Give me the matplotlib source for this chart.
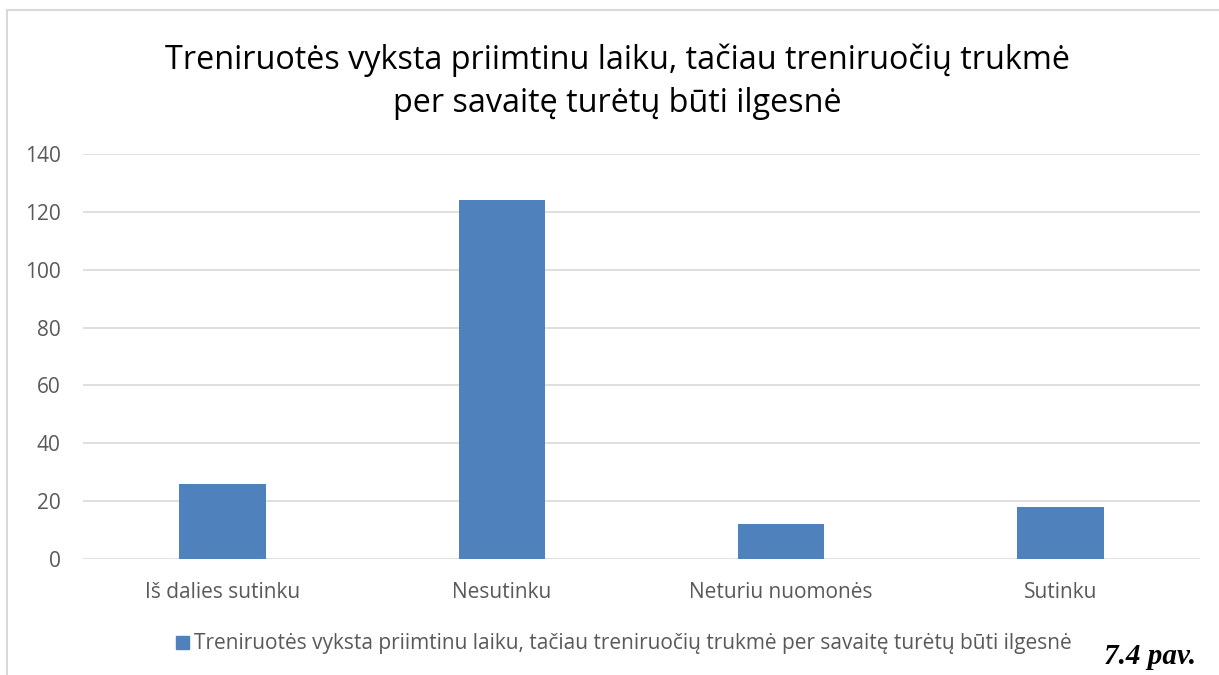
import matplotlib.pyplot as plt
from matplotlib.lines import Line2D
from matplotlib.patches import Patch

categories = ["Iš dalies sutinku", "Nesutinku", "Neturiu nuomonės", "Sutinku"]
values = [26, 124, 12, 18]
yticks = [0, 20, 40, 60, 80, 100, 120, 140]
title = "Treniruotės vyksta priimtinu laiku, tačiau treniruočių trukmė\nper savaitę turėtų būti ilgesnė"
series_name = "Treniruotės vyksta priimtinu laiku, tačiau treniruočių trukmė per savaitę turėtų būti ilgesnė"
fig_label = "7.4 pav."

bar_color = "#4f81bd"
text_gray = "#595959"
grid_gray = "#d9d9d9"

plt.rcParams['font.family'] = ['Open Sans', 'DejaVu Sans']

W, H = 1219, 675
fig = plt.figure(figsize=(W / 100, H / 100), dpi=100)
ax = fig.add_axes([83 / W, 1 - 559 / H, (1200 - 83) / W, (559 - 154) / H])

x = range(len(categories))
ax.bar(x, values, width=0.31, color=bar_color, zorder=3)
ax.set_xlim(-0.5, len(categories) - 0.5)
ax.set_ylim(0, 140)
ax.set_yticks(yticks)
ax.set_xticks(list(x))
ax.set_xticklabels(categories)
ax.tick_params(axis='both', length=0, colors=text_gray, labelsize=15)
ax.tick_params(axis='y', pad=16)
ax.tick_params(axis='x', pad=16.5)
ax.grid(axis='y', color=grid_gray, linewidth=1.2, zorder=0)
for s in ax.spines.values():
    s.set_visible(False)

fig.text(0.5 * (165 + 1070) / W, 1 - 82 / H, title, ha='center', va='center',
         fontsize=23.3, color='black', linespacing=1.4)

# outer chart frame (top and left edges visible)
fig.add_artist(Line2D([7 / W, 1], [1 - 10 / H, 1 - 10 / H], color='#d9d9d9', lw=1.5))
fig.add_artist(Line2D([7 / W, 7 / W], [0, 1 - 10 / H], color='#d9d9d9', lw=1.5))

leg = fig.legend(handles=[Patch(color=bar_color, label=series_name)],
                 loc='center', bbox_to_anchor=(624 / W, 1 - 644 / H),
                 frameon=False, fontsize=15, handlelength=0.6, handleheight=0.6,
                 handletextpad=0.25)
for t in leg.get_texts():
    t.set_color(text_gray)

fig.text(1196 / W, 1 - 656 / H, fig_label, ha='right', va='center', fontsize=21,
         family='Liberation Serif', weight='bold', style='italic')

fig.savefig("out.png", dpi=100)
